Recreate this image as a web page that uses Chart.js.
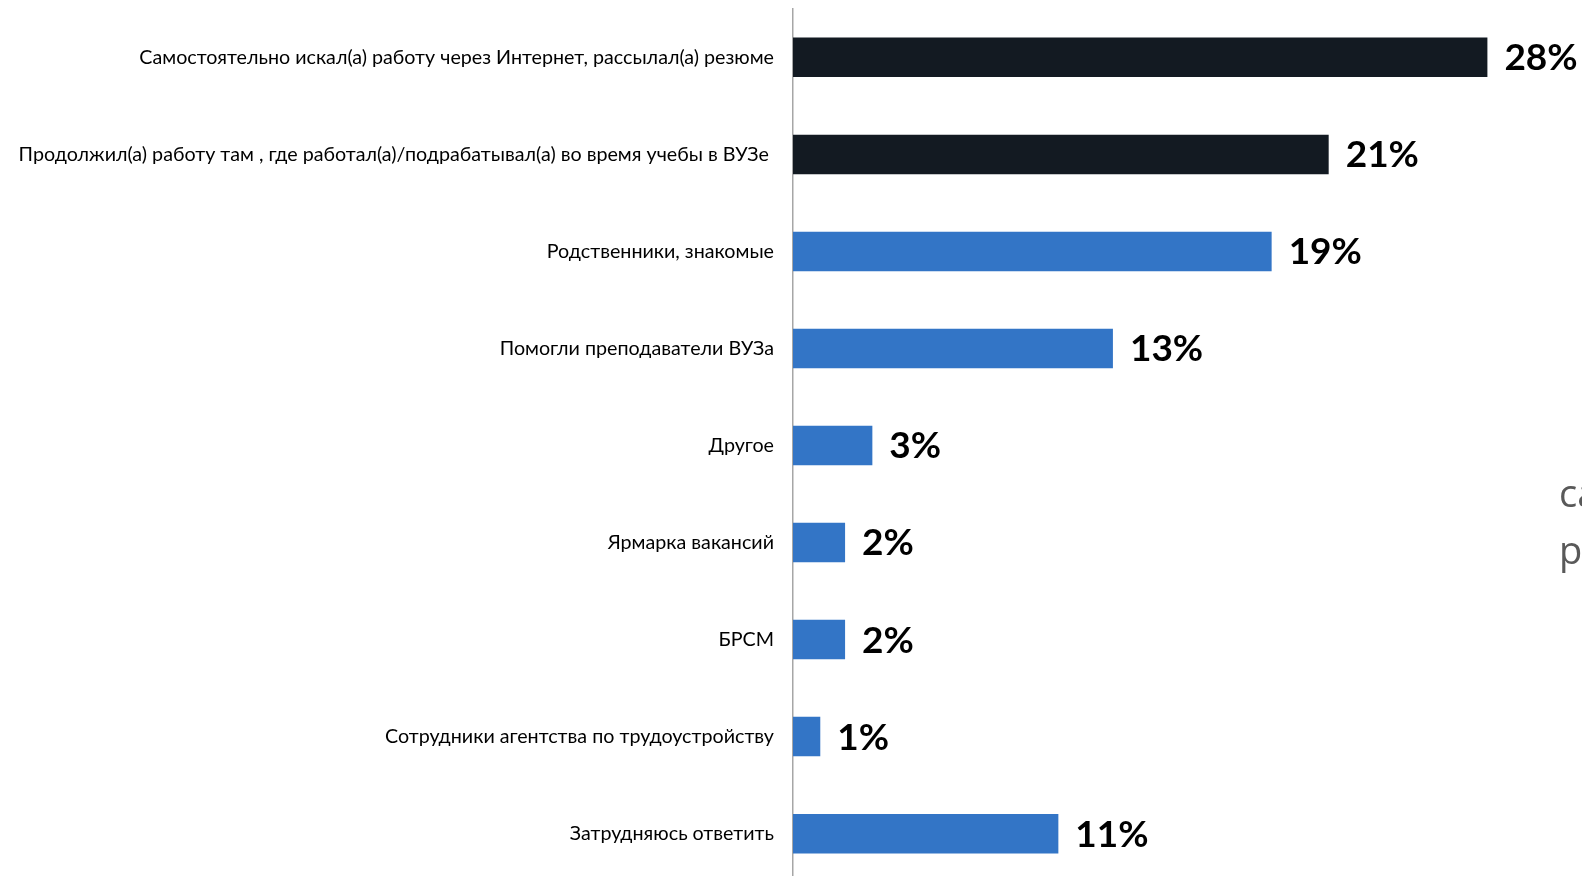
<!DOCTYPE html>
<html>
<head>
<meta charset="utf-8">
<script src="https://cdn.jsdelivr.net/npm/chart.js@4"></script>
<style>
  html, body { margin: 0; padding: 0; background: #fff; overflow: hidden; }
  #wrap { position: relative; width: 1582px; height: 876px; overflow: hidden; }
  #chart { position: absolute; left: 0; top: -22px; }
  .side { position: absolute; left: 1559px; font-family: "Open Sans", sans-serif; font-size: 38px; color: #595959; white-space: nowrap; line-height: 1; }
</style>
</head>
<body>
<div id="wrap">
  <canvas id="chart" width="1582" height="935"></canvas>
  <div class="side" style="top:473px">са</div>
  <div class="side" style="top:530px">р</div>
</div>
<script>
// ==================== DATA ====================
const categories = [
    'Самостоятельно искал(а) работу через Интернет, рассылал(а) резюме',
    'Продолжил(а) работу там , где работал(а)/подрабатывал(а) во время учебы в ВУЗе ',
    'Родственники, знакомые',
    'Помогли преподаватели ВУЗа',
    'Другое',
    'Ярмарка вакансий',
    'БРСМ',
    'Сотрудники агентства по трудоустройству',
    'Затрудняюсь ответить'
];
const values = [28.0, 21.6, 19.3, 12.9, 3.2, 2.1, 2.1, 1.1, 10.7];
const valueLabels = ['28%', '21%', '19%', '13%', '3%', '2%', '2%', '1%', '11%'];
const barColors = ['#131a22', '#131a22', '#3375c6', '#3375c6', '#3375c6', '#3375c6', '#3375c6', '#3375c6', '#3375c6'];

// ==================== VALUE LABELS ====================
const valueLabelPlugin = {
    id: 'valueLabels',
    afterDatasetsDraw(chart) {
        const { ctx } = chart;
        const meta = chart.getDatasetMeta(0);
        ctx.save();
        ctx.font = 'bold 37px Lato, sans-serif';
        ctx.fillStyle = '#000';
        ctx.textBaseline = 'middle';
        ctx.textAlign = 'left';
        meta.data.forEach((bar, i) => {
            ctx.fillText(valueLabels[i], bar.x + 17, bar.y + 1);
        });
        ctx.restore();
    }
};

// ==================== CHART ====================
const ctx = document.getElementById('chart').getContext('2d');
new Chart(ctx, {
    type: 'bar',
    data: {
        labels: categories,
        datasets: [{
            data: values,
            backgroundColor: barColors,
            borderWidth: 0,
            barPercentage: 0.407,
            categoryPercentage: 1
        }]
    },
    options: {
        indexAxis: 'y',
        responsive: false,
        animation: false,
        layout: { padding: { top: 9, bottom: 8, right: 45, left: 0 } },
        plugins: {
            legend: { display: false },
            tooltip: { enabled: false }
        },
        scales: {
            x: {
                display: false,
                min: 0,
                max: 30
            },
            y: {
                afterFit: (scale) => { scale.width = 793; },
                grid: { display: false, drawTicks: false },
                border: { display: true, color: '#a6a6a6', width: 1.5 },
                ticks: {
                    color: '#000',
                    padding: 19,
                    font: { family: 'Lato, sans-serif', size: 19.7 }
                }
            }
        }
    },
    plugins: [valueLabelPlugin]
});
</script>
</body>
</html>
